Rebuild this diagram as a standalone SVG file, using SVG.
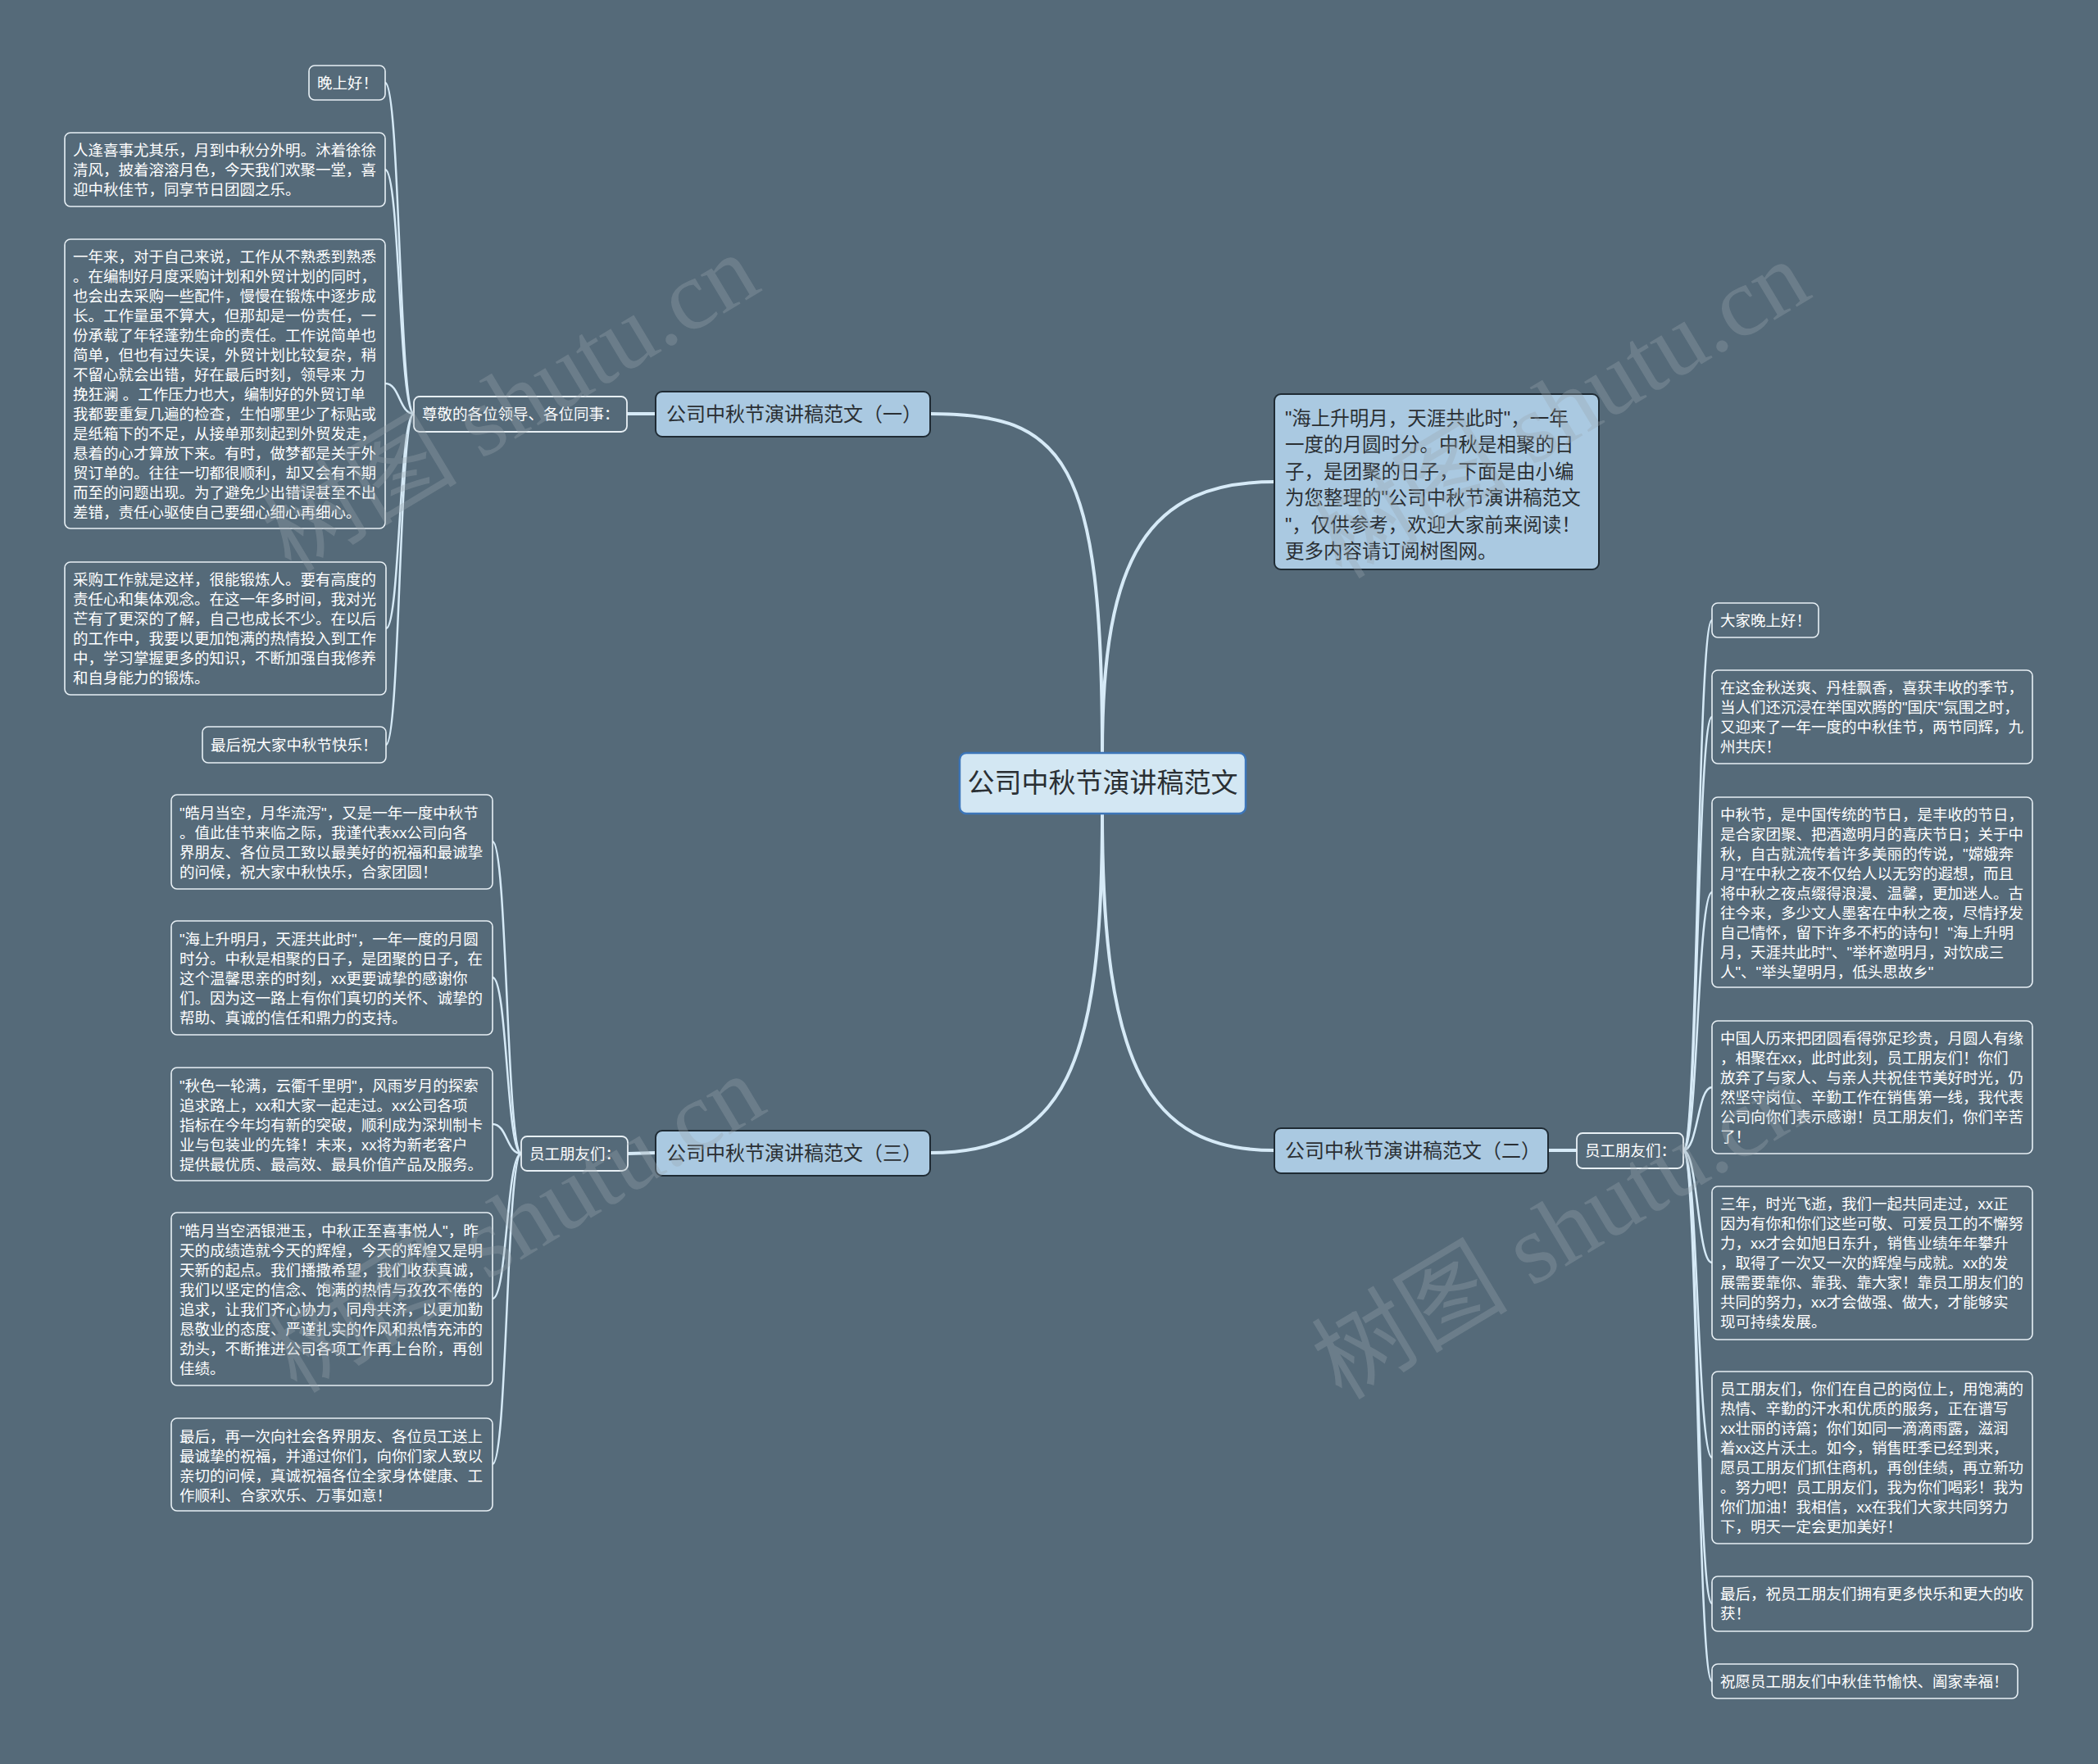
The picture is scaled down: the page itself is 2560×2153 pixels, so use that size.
<svg xmlns="http://www.w3.org/2000/svg" width="2560" height="2153" viewBox="0 0 2560 2153">
<style>
.bg{fill:#556a79}
.leaf rect{fill:#556a79;stroke:#e8f0f5;stroke-width:1.6}
.leaf text,.sub text{font-family:"Liberation Sans","Noto Sans CJK SC",sans-serif;font-size:18.5px;fill:#ffffff}
.sub rect{fill:#556a79;stroke:#e8f0f5;stroke-width:1.8}
.branch rect{fill:#aac9e1;stroke:#1f2b34;stroke-width:2}
.branch text{font-family:"Liberation Sans","Noto Sans CJK SC",sans-serif;font-size:24px;fill:#2a2f33}
.intro rect{fill:#aac9e1;stroke:#1f2b34;stroke-width:2}
.intro text{font-family:"Liberation Sans","Noto Sans CJK SC",sans-serif;font-size:23.5px;fill:#2a2f33}
.center rect{fill:#d3e7f3;stroke:#3c75b8;stroke-width:2.5}
.center text{font-family:"Liberation Sans","Noto Sans CJK SC",sans-serif;font-size:33px;fill:#2a2f33}
.main{fill:none;stroke:#d6eaf7;stroke-width:4}
.thin{fill:none;stroke:#d6eaf7;stroke-width:2.5}
.wm{font-family:"Liberation Serif","Noto Sans CJK SC",serif;font-size:120px;fill:#9aa6ae;opacity:0.33}
</style>
<rect class="bg" x="0" y="0" width="2560" height="2153"/>

<g id="connectors">
<path class="main" d="M1345,919 C1345,560 1300,505 1135,505"/>
<path class="main" d="M1345,919 C1345,680 1400,588 1555,588"/>
<path class="main" d="M1345,993 C1345,1300 1300,1407 1135,1407"/>
<path class="main" d="M1345,993 C1345,1300 1400,1404 1555,1404"/>
<path class="main" d="M800,505 L765,505"/>
<path class="main" d="M800,1407 L766,1408"/>
<path class="main" d="M1889,1404 L1924,1404"/>
<path class="thin" d="M505,505 C487,505 488,101 470,101"/>
<path class="thin" d="M505,505 C487,505 488,207 470,207"/>
<path class="thin" d="M505,505 C487,505 488,468 470,468"/>
<path class="thin" d="M505,505 C487,505 488,767 471,767"/>
<path class="thin" d="M505,505 C487,505 488,909 471,909"/>
<path class="thin" d="M636,1408 C618,1408 619,1027 601,1027"/>
<path class="thin" d="M636,1408 C618,1408 619,1193 601,1193"/>
<path class="thin" d="M636,1408 C618,1408 619,1372 601,1372"/>
<path class="thin" d="M636,1408 C618,1408 619,1585 601,1585"/>
<path class="thin" d="M636,1408 C618,1408 619,1787 601,1787"/>
<path class="thin" d="M2054,1404 C2072,1404 2071,757 2089,757"/>
<path class="thin" d="M2054,1404 C2072,1404 2071,875 2089,875"/>
<path class="thin" d="M2054,1404 C2072,1404 2071,1089 2089,1089"/>
<path class="thin" d="M2054,1404 C2072,1404 2071,1327 2089,1327"/>
<path class="thin" d="M2054,1404 C2072,1404 2071,1541 2089,1541"/>
<path class="thin" d="M2054,1404 C2072,1404 2071,1779 2089,1779"/>
<path class="thin" d="M2054,1404 C2072,1404 2071,1957 2089,1957"/>
<path class="thin" d="M2054,1404 C2072,1404 2071,2052 2089,2052"/>
</g>

<g id="center" class="center">
<rect x="1171" y="919" width="349" height="74" rx="8"/>
<text x="1345.5" y="967" text-anchor="middle">公司中秋节演讲稿范文</text>
</g>

<g id="intro" class="intro">
<rect x="1555" y="481" width="396" height="214" rx="8"/>
<text x="1568" y="519">"海上升明月，天涯共此时"，一年</text>
<text x="1568" y="551.4">一度的月圆时分。中秋是相聚的日</text>
<text x="1568" y="583.8">子，是团聚的日子，下面是由小编</text>
<text x="1568" y="616.2">为您整理的"公司中秋节演讲稿范文</text>
<text x="1568" y="648.6">"，仅供参考，欢迎大家前来阅读！</text>
<text x="1568" y="681">更多内容请订阅树图网。</text>
</g>

<g id="branch1" class="branch">
<rect x="800" y="478" width="335" height="55" rx="8"/>
<text x="813" y="514">公司中秋节演讲稿范文（一）</text>
</g>
<g id="branch2" class="branch">
<rect x="1555" y="1377" width="334" height="55" rx="8"/>
<text x="1568" y="1413">公司中秋节演讲稿范文（二）</text>
</g>
<g id="branch3" class="branch">
<rect x="800" y="1380" width="335" height="55" rx="8"/>
<text x="813" y="1416">公司中秋节演讲稿范文（三）</text>
</g>

<g id="sub1" class="sub">
<rect x="505" y="484" width="260" height="43" rx="7"/>
<text x="515" y="512">尊敬的各位领导、各位同事：</text>
</g>
<g id="sub2" class="sub">
<rect x="1924" y="1383" width="130" height="43" rx="7"/>
<text x="1934" y="1411">员工朋友们：</text>
</g>
<g id="sub3" class="sub">
<rect x="636" y="1387" width="130" height="42" rx="7"/>
<text x="646" y="1415">员工朋友们：</text>
</g>

<g id="l1a" class="leaf">
<rect x="377" y="80" width="93" height="42" rx="7"/>
<text x="387" y="108">晚上好！</text>
</g>
<g id="l1b" class="leaf">
<rect x="79" y="162" width="391" height="90" rx="7"/>
<text x="89" y="190">人逢喜事尤其乐，月到中秋分外明。沐着徐徐</text>
<text x="89" y="214">清风，披着溶溶月色，今天我们欢聚一堂，喜</text>
<text x="89" y="238">迎中秋佳节，同享节日团圆之乐。</text>
</g>
<g id="l1c" class="leaf">
<rect x="79" y="292" width="391" height="353" rx="7"/>
<text x="89" y="320">一年来，对于自己来说，工作从不熟悉到熟悉</text>
<text x="89" y="344">。在编制好月度采购计划和外贸计划的同时，</text>
<text x="89" y="368">也会出去采购一些配件，慢慢在锻炼中逐步成</text>
<text x="89" y="392">长。工作量虽不算大，但那却是一份责任，一</text>
<text x="89" y="416">份承载了年轻蓬勃生命的责任。工作说简单也</text>
<text x="89" y="440">简单，但也有过失误，外贸计划比较复杂，稍</text>
<text x="89" y="464">不留心就会出错，好在最后时刻，领导来 力</text>
<text x="89" y="488">挽狂澜 。工作压力也大，编制好的外贸订单</text>
<text x="89" y="512">我都要重复几遍的检查，生怕哪里少了标贴或</text>
<text x="89" y="536">是纸箱下的不足，从接单那刻起到外贸发走，</text>
<text x="89" y="560">悬着的心才算放下来。有时，做梦都是关于外</text>
<text x="89" y="584">贸订单的。往往一切都很顺利，却又会有不期</text>
<text x="89" y="608">而至的问题出现。为了避免少出错误甚至不出</text>
<text x="89" y="632">差错，责任心驱使自己要细心细心再细心。</text>
</g>
<g id="l1d" class="leaf">
<rect x="79" y="686" width="392" height="162" rx="7"/>
<text x="89" y="714">采购工作就是这样，很能锻炼人。要有高度的</text>
<text x="89" y="738">责任心和集体观念。在这一年多时间，我对光</text>
<text x="89" y="762">芒有了更深的了解，自己也成长不少。在以后</text>
<text x="89" y="786">的工作中，我要以更加饱满的热情投入到工作</text>
<text x="89" y="810">中，学习掌握更多的知识，不断加强自我修养</text>
<text x="89" y="834">和自身能力的锻炼。</text>
</g>
<g id="l1e" class="leaf">
<rect x="247" y="887" width="224" height="44" rx="7"/>
<text x="257" y="916">最后祝大家中秋节快乐！</text>
</g>

<g id="l3a" class="leaf">
<rect x="209" y="970" width="392" height="115" rx="7"/>
<text x="219" y="999">"皓月当空，月华流泻"，又是一年一度中秋节</text>
<text x="219" y="1023">。值此佳节来临之际，我谨代表xx公司向各</text>
<text x="219" y="1047">界朋友、各位员工致以最美好的祝福和最诚挚</text>
<text x="219" y="1071">的问候，祝大家中秋快乐，合家团圆！</text>
</g>
<g id="l3b" class="leaf">
<rect x="209" y="1124" width="392" height="139" rx="7"/>
<text x="219" y="1153">"海上升明月，天涯共此时"，一年一度的月圆</text>
<text x="219" y="1177">时分。中秋是相聚的日子，是团聚的日子，在</text>
<text x="219" y="1201">这个温馨思亲的时刻，xx更要诚挚的感谢你</text>
<text x="219" y="1225">们。因为这一路上有你们真切的关怀、诚挚的</text>
<text x="219" y="1249">帮助、真诚的信任和鼎力的支持。</text>
</g>
<g id="l3c" class="leaf">
<rect x="209" y="1303" width="392" height="138" rx="7"/>
<text x="219" y="1332">"秋色一轮满，云衢千里明"，风雨岁月的探索</text>
<text x="219" y="1356">追求路上，xx和大家一起走过。xx公司各项</text>
<text x="219" y="1380">指标在今年均有新的突破，顺利成为深圳制卡</text>
<text x="219" y="1404">业与包装业的先锋！未来，xx将为新老客户</text>
<text x="219" y="1428">提供最优质、最高效、最具价值产品及服务。</text>
</g>
<g id="l3d" class="leaf">
<rect x="209" y="1480" width="392" height="211" rx="7"/>
<text x="219" y="1509">"皓月当空洒银泄玉，中秋正至喜事悦人"，昨</text>
<text x="219" y="1533">天的成绩造就今天的辉煌，今天的辉煌又是明</text>
<text x="219" y="1557">天新的起点。我们播撒希望，我们收获真诚，</text>
<text x="219" y="1581">我们以坚定的信念、饱满的热情与孜孜不倦的</text>
<text x="219" y="1605">追求，让我们齐心协力，同舟共济，以更加勤</text>
<text x="219" y="1629">恳敬业的态度、严谨扎实的作风和热情充沛的</text>
<text x="219" y="1653">劲头，不断推进公司各项工作再上台阶，再创</text>
<text x="219" y="1677">佳绩。</text>
</g>
<g id="l3e" class="leaf">
<rect x="209" y="1731" width="392" height="113" rx="7"/>
<text x="219" y="1760">最后，再一次向社会各界朋友、各位员工送上</text>
<text x="219" y="1784">最诚挚的祝福，并通过你们，向你们家人致以</text>
<text x="219" y="1808">亲切的问候，真诚祝福各位全家身体健康、工</text>
<text x="219" y="1832">作顺利、合家欢乐、万事如意！</text>
</g>

<g id="l2a" class="leaf">
<rect x="2089" y="736" width="130" height="42" rx="7"/>
<text x="2099" y="764">大家晚上好！</text>
</g>
<g id="l2b" class="leaf">
<rect x="2089" y="818" width="391" height="114" rx="7"/>
<text x="2099" y="846">在这金秋送爽、丹桂飘香，喜获丰收的季节，</text>
<text x="2099" y="870">当人们还沉浸在举国欢腾的"国庆"氛围之时，</text>
<text x="2099" y="894">又迎来了一年一度的中秋佳节，两节同辉，九</text>
<text x="2099" y="918">州共庆！</text>
</g>
<g id="l2c" class="leaf">
<rect x="2089" y="973" width="391" height="232" rx="7"/>
<text x="2099" y="1001">中秋节，是中国传统的节日，是丰收的节日，</text>
<text x="2099" y="1025">是合家团聚、把酒邀明月的喜庆节日；关于中</text>
<text x="2099" y="1049">秋，自古就流传着许多美丽的传说，"嫦娥奔</text>
<text x="2099" y="1073">月"在中秋之夜不仅给人以无穷的遐想，而且</text>
<text x="2099" y="1097">将中秋之夜点缀得浪漫、温馨，更加迷人。古</text>
<text x="2099" y="1121">往今来，多少文人墨客在中秋之夜，尽情抒发</text>
<text x="2099" y="1145">自己情怀，留下许多不朽的诗句！"海上升明</text>
<text x="2099" y="1169">月，天涯共此时"、"举杯邀明月，对饮成三</text>
<text x="2099" y="1193">人"、"举头望明月，低头思故乡"</text>
</g>
<g id="l2d" class="leaf">
<rect x="2089" y="1246" width="391" height="162" rx="7"/>
<text x="2099" y="1274">中国人历来把团圆看得弥足珍贵，月圆人有缘</text>
<text x="2099" y="1298">，相聚在xx，此时此刻，员工朋友们！你们</text>
<text x="2099" y="1322">放弃了与家人、与亲人共祝佳节美好时光，仍</text>
<text x="2099" y="1346">然坚守岗位、辛勤工作在销售第一线，我代表</text>
<text x="2099" y="1370">公司向你们表示感谢！员工朋友们，你们辛苦</text>
<text x="2099" y="1394">了！</text>
</g>
<g id="l2e" class="leaf">
<rect x="2089" y="1448" width="391" height="187" rx="7"/>
<text x="2099" y="1476">三年，时光飞逝，我们一起共同走过，xx正</text>
<text x="2099" y="1500">因为有你和你们这些可敬、可爱员工的不懈努</text>
<text x="2099" y="1524">力，xx才会如旭日东升，销售业绩年年攀升</text>
<text x="2099" y="1548">，取得了一次又一次的辉煌与成就。xx的发</text>
<text x="2099" y="1572">展需要靠你、靠我、靠大家！靠员工朋友们的</text>
<text x="2099" y="1596">共同的努力，xx才会做强、做大，才能够实</text>
<text x="2099" y="1620">现可持续发展。</text>
</g>
<g id="l2f" class="leaf">
<rect x="2089" y="1674" width="391" height="210" rx="7"/>
<text x="2099" y="1702">员工朋友们，你们在自己的岗位上，用饱满的</text>
<text x="2099" y="1726">热情、辛勤的汗水和优质的服务，正在谱写</text>
<text x="2099" y="1750">xx壮丽的诗篇；你们如同一滴滴雨露，滋润</text>
<text x="2099" y="1774">着xx这片沃土。如今，销售旺季已经到来，</text>
<text x="2099" y="1798">愿员工朋友们抓住商机，再创佳绩，再立新功</text>
<text x="2099" y="1822">。努力吧！员工朋友们，我为你们喝彩！我为</text>
<text x="2099" y="1846">你们加油！我相信，xx在我们大家共同努力</text>
<text x="2099" y="1870">下，明天一定会更加美好！</text>
</g>
<g id="l2g" class="leaf">
<rect x="2089" y="1924" width="391" height="67" rx="7"/>
<text x="2099" y="1952">最后，祝员工朋友们拥有更多快乐和更大的收</text>
<text x="2099" y="1976">获！</text>
</g>
<g id="l2h" class="leaf">
<rect x="2089" y="2031" width="373" height="42" rx="7"/>
<text x="2099" y="2059">祝愿员工朋友们中秋佳节愉快、阖家幸福！</text>
</g>

<g id="watermarks">
<text class="wm" transform="translate(355,700) rotate(-31)">树图 shutu.cn</text>
<text class="wm" transform="translate(1637,708) rotate(-31)">树图 shutu.cn</text>
<text class="wm" transform="translate(362,1702) rotate(-31)">树图 shutu.cn</text>
<text class="wm" transform="translate(1637,1710) rotate(-31)">树图 shutu.cn</text>
</g>
</svg>
